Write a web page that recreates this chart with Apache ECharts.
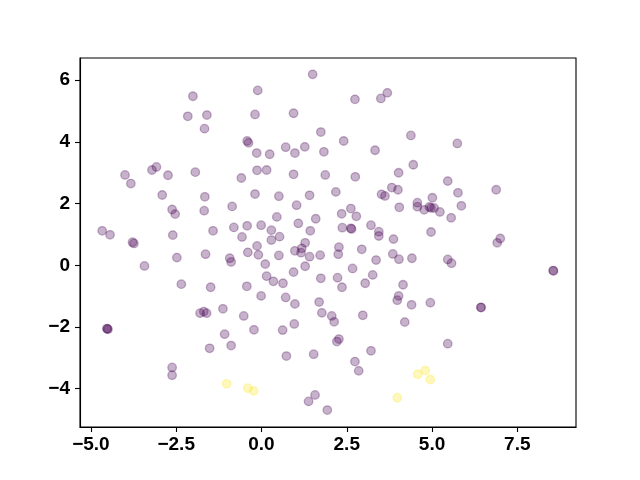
<!DOCTYPE html>
<html>
<head>
    <meta charset="utf-8">
    <script type="text/javascript" src="https://cdn.jsdelivr.net/npm/echarts@6/dist/echarts.min.js"></script>
    <style type="text/css">
        * { margin: 0; padding: 0; }
        #container { width: 640px; height: 480px; background: #fff; }
    </style>
</head>
<body>
<div id="container"></div>
<script type="text/javascript">

    // points of the first class (dark purple end of viridis)
    var purplePoints = [
        [-2.01, 5.48], [-2.16, 4.83], [-1.60, 4.87], [-1.67, 4.43], [-0.42, 4.03], [-0.38, 3.97],
        [-4.00, 2.93], [-3.83, 2.65], [-3.21, 3.09], [-3.08, 3.19], [-2.74, 2.92], [-1.94, 3.02],
        [-0.59, 2.83], [-2.91, 2.28], [-1.66, 2.22], [-2.62, 1.81], [-2.53, 1.66], [-1.68, 1.77],
        [-0.86, 1.91], [-4.67, 1.12], [-4.44, 0.99], [-3.78, 0.75], [-3.74, 0.71], [-2.60, 0.98],
        [-1.42, 1.12], [-0.81, 1.23], [-0.42, 1.28], [-0.57, 0.92],
        [1.50, 6.19], [-0.11, 5.67], [2.74, 5.38], [3.50, 5.41], [3.69, 5.59], [-0.19, 4.89],
        [0.94, 4.93], [1.74, 4.32], [2.41, 4.03], [4.38, 4.21], [0.71, 3.83], [0.98, 3.64],
        [1.27, 3.84], [-0.14, 3.64], [0.24, 3.60], [1.83, 3.68], [3.33, 3.73], [4.45, 3.26],
        [-0.13, 3.08], [0.15, 3.09], [0.94, 2.95], [1.87, 2.93], [2.75, 2.87], [4.02, 3.00],
        [-0.19, 2.31], [0.51, 2.24], [1.41, 2.27], [2.18, 2.38], [3.82, 2.52], [4.00, 2.45],
        [3.52, 2.30], [3.62, 2.25], [1.03, 1.95], [4.04, 1.88], [4.57, 2.03], [4.57, 1.90],
        [0.45, 1.57], [1.59, 1.51], [2.35, 1.67], [2.62, 1.84], [2.78, 1.59], [-0.01, 1.30],
        [0.29, 1.14], [1.08, 1.36], [1.43, 1.12], [2.37, 1.22], [2.62, 1.20], [2.64, 1.18],
        [3.21, 1.30], [3.44, 1.09], [3.44, 0.95], [3.87, 0.85], [0.29, 0.82], [0.53, 0.93],
        [-0.13, 0.63], [1.28, 0.73], [-0.40, 0.42], [-0.09, 0.34], [0.98, 0.47], [1.18, 0.55],
        [1.16, 0.41], [1.41, 0.28], [0.51, 0.32], [1.72, 0.33], [2.27, 0.59], [2.25, 0.36],
        [2.94, 0.52], [3.36, 0.17], [3.85, 0.37], [4.03, 0.20], [4.41, 0.23], [0.11, 0.04],
        [1.28, -0.03], [0.94, -0.22], [2.67, -0.10], [0.15, -0.35], [0.35, -0.52], [0.63, -0.58],
        [1.74, -0.42], [2.23, -0.40], [2.36, -0.71], [3.26, -0.31], [3.04, -0.58], [4.15, -0.63],
        [-0.43, -0.68], [-0.01, -0.99], [0.71, -1.04], [0.98, -1.25], [1.69, -1.19], [1.77, -1.54],
        [2.06, -1.64], [2.13, -1.83], [2.97, -1.62], [4.02, -0.99], [3.98, -1.13], [4.40, -1.28],
        [4.20, -1.84], [-0.22, -2.09], [0.62, -2.10], [0.96, -1.90], [2.27, -2.39], [2.21, -2.47],
        [3.21, -2.77], [0.73, -2.94], [1.53, -2.88], [2.74, -3.12], [2.85, -3.42], [1.57, -4.20],
        [1.38, -4.41], [1.93, -4.69],
        [-2.48, 0.25], [-1.64, 0.36], [-0.93, 0.23], [-0.89, 0.11], [-3.43, -0.02], [-2.35, -0.61],
        [-1.49, -0.71], [-1.80, -1.55], [-1.69, -1.50], [-1.61, -1.55], [-1.13, -1.41], [-0.52, -1.64],
        [-4.52, -2.06], [-4.50, -2.07], [-4.53, -2.05], [-1.08, -2.23], [-0.89, -2.60], [-1.52, -2.69],
        [-2.62, -3.31], [-2.62, -3.56],
        [5.74, 3.95], [5.46, 2.73], [5.76, 2.35], [6.88, 2.45], [5.01, 2.19], [4.77, 1.80],
        [4.92, 1.89], [4.97, 1.86], [5.06, 1.86], [5.23, 1.73], [5.86, 1.93], [5.56, 1.54],
        [4.97, 1.08], [7.00, 0.87], [6.91, 0.73], [5.46, 0.19], [5.57, 0.07], [8.55, -0.17],
        [8.56, -0.18], [4.95, -1.21], [6.43, -1.36], [6.44, -1.37], [5.46, -2.54]
    ];

    // points of the second class (yellow end of viridis)
    var yellowPoints = [
        [-1.02, -3.84], [-0.40, -3.98], [-0.23, -4.07], [3.98, -4.29],
        [4.58, -3.53], [4.80, -3.41], [4.95, -3.70]
    ];

    var xTicks = [-5.0, -2.5, 0.0, 2.5, 5.0, 7.5];
    var yTicks = [-4, -2, 0, 2, 4, 6];

    var labelFont = {
        color: '#000',
        fontSize: 19,
        fontWeight: 'bold',
        fontFamily: 'Liberation Sans'
    };

    function minusSign(s) {
        return String(s).replace('-', '\u2212');
    }

    var dom = document.getElementById('container');
    var myChart = echarts.init(dom, null, {renderer: 'canvas'});

    var option = {
        animation: false,
        backgroundColor: '#ffffff',
        grid: {
            left: 80,
            right: 64,
            top: 58,
            bottom: 53,
            show: true,
            borderColor: '#000',
            borderWidth: 1.1,
            containLabel: false
        },
        xAxis: {
            type: 'value',
            min: -5.32,
            max: 9.22,
            axisLine: {show: true, onZero: false, lineStyle: {color: '#000', width: 1.1}},
            axisTick: {show: true, length: 5, customValues: xTicks, lineStyle: {color: '#000', width: 1.1}},
            axisLabel: {
                show: true,
                margin: 8,
                customValues: xTicks,
                formatter: function (v) { return minusSign(v.toFixed(1)); },
                color: labelFont.color,
                fontSize: labelFont.fontSize,
                fontWeight: labelFont.fontWeight,
                fontFamily: labelFont.fontFamily
            },
            splitLine: {show: false}
        },
        yAxis: {
            type: 'value',
            min: -5.24,
            max: 6.72,
            axisLine: {show: true, onZero: false, lineStyle: {color: '#000', width: 1.1}},
            axisTick: {show: true, length: 5, customValues: yTicks, lineStyle: {color: '#000', width: 1.1}},
            axisLabel: {
                show: true,
                margin: 10,
                customValues: yTicks,
                formatter: function (v) { return minusSign(Math.round(v)); },
                color: labelFont.color,
                fontSize: labelFont.fontSize,
                fontWeight: labelFont.fontWeight,
                fontFamily: labelFont.fontFamily
            },
            splitLine: {show: false}
        },
        series: [
            {
                type: 'scatter',
                symbol: 'circle',
                symbolSize: 8.5,
                itemStyle: {
                    color: 'rgba(68, 1, 84, 0.3)',
                    borderColor: 'rgba(68, 1, 84, 0.3)',
                    borderWidth: 1.3,
                    opacity: 1
                },
                data: purplePoints
            },
            {
                type: 'scatter',
                symbol: 'circle',
                symbolSize: 8.5,
                itemStyle: {
                    color: 'rgba(253, 231, 37, 0.3)',
                    borderColor: 'rgba(253, 231, 37, 0.3)',
                    borderWidth: 1.3,
                    opacity: 1
                },
                data: yellowPoints
            }
        ]
    };
    myChart.setOption(option, true);
</script>
</body>
</html>
